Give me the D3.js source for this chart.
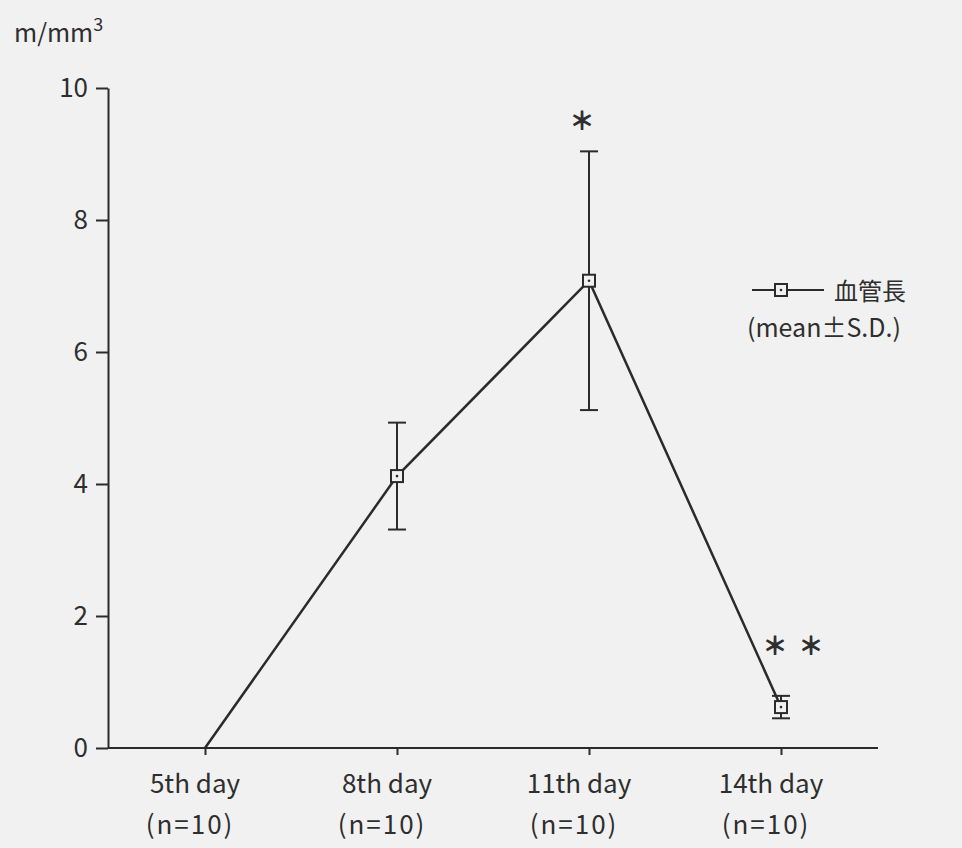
<!DOCTYPE html>
<html><head><meta charset="utf-8">
<script src="https://cdn.jsdelivr.net/npm/d3@7"></script>
<style>
html,body{margin:0;padding:0;background:#f1f1f1;}
svg{display:block;}
text{font-family:"Noto Sans CJK JP","Noto Sans",sans-serif;fill:#2e2e2e;}
</style></head>
<body>
<svg id="chart" width="962" height="848"></svg>
<script>
const categories = ["5th day","8th day","11th day","14th day"];
const nLabels = ["(n=10)","(n=10)","(n=10)","(n=10)"];
const means = [0, 4.12, 7.08, 0.62];
const sds = [null, 0.81, 1.96, 0.17];
const stars = [[], [], ["＊"], ["＊","＊"]];
const yTicks = [0,2,4,6,8,10];
const seriesName = "血管長";

const svg = d3.select("#chart");
const ink = "#2b2b2b";
const FS = 26;
const x = d3.scalePoint().domain(categories).range([205, 781]);
const y = d3.scaleLinear().domain([0,10]).range([748, 88]);

// y axis
const yAxis = svg.append("g").attr("transform","translate(108,0)")
  .call(d3.axisLeft(y).tickValues(yTicks).tickSize(12).tickPadding(8).tickSizeOuter(0));
yAxis.select(".domain").attr("stroke",ink).attr("stroke-width",2);
yAxis.selectAll(".tick line").attr("stroke",ink).attr("stroke-width",2);
yAxis.selectAll(".tick text").attr("font-size",FS).attr("fill","#2e2e2e")
  .style("font-family","'Noto Sans CJK JP',sans-serif");

// x axis
svg.append("line").attr("x1",108).attr("x2",878).attr("y1",748).attr("y2",748)
  .attr("stroke",ink).attr("stroke-width",2);
const xAxis = svg.append("g").attr("transform","translate(0,748)")
  .call(d3.axisBottom(x).tickSize(7).tickSizeOuter(0).tickFormat(""));
xAxis.select(".domain").remove();
xAxis.selectAll(".tick line").attr("stroke",ink).attr("stroke-width",2);
categories.forEach((c,i)=>{
  svg.append("text").attr("x",x(c)-10).attr("y",793).attr("text-anchor","middle")
    .attr("font-size",FS).text(c);
  svg.append("text").attr("x",x(c)-15).attr("y",834).attr("text-anchor","middle")
    .attr("font-size",FS).attr("letter-spacing",2).text(nLabels[i]);
});

// unit label
const u = svg.append("text").attr("x",14).attr("y",42).attr("font-size",FS-1);
u.append("tspan").text("m/mm");
u.append("tspan").attr("font-size",18).attr("dy",-11).text("3");

// error bars
categories.forEach((c,i)=>{
  if (sds[i]==null) return;
  const cx = x(c), top = y(means[i]+sds[i]), bot = y(means[i]-sds[i]);
  const g = svg.append("g").attr("stroke",ink).attr("stroke-width",2);
  g.append("line").attr("x1",cx).attr("x2",cx).attr("y1",top).attr("y2",bot);
  g.append("line").attr("x1",cx-9).attr("x2",cx+9).attr("y1",top).attr("y2",top);
  g.append("line").attr("x1",cx-9).attr("x2",cx+9).attr("y1",bot).attr("y2",bot);
});

// line
const line = d3.line().x((d,i)=>x(categories[i])).y(d=>y(d));
svg.append("path").datum(means).attr("d",line).attr("fill","none")
  .attr("stroke",ink).attr("stroke-width",2.5);

function marker(g, cx, cy){
  g.append("rect").attr("x",cx-6).attr("y",cy-6).attr("width",12).attr("height",12)
    .attr("fill","#f1f1f1").attr("stroke",ink).attr("stroke-width",2);
  g.append("circle").attr("cx",cx).attr("cy",cy).attr("r",1.3).attr("fill",ink);
}
categories.forEach((c,i)=>{ if(i>0) marker(svg, x(c), y(means[i])); });

// stars
categories.forEach((c,i)=>{
  const n = stars[i].length;
  if(!n) return;
  const base = y(means[i]+sds[i]) - (n===1 ? 22 : 42);
  stars[i].forEach((s,k)=>{
    const sx = n===1 ? x(c)-7 : x(c) - 6 + k*36;
    svg.append("text").attr("x",sx).attr("y",base).attr("text-anchor","middle")
      .attr("font-size",24)
      .attr("stroke","#2e2e2e").attr("stroke-width",1.2).text(s);
  });
});

// legend
svg.append("line").attr("x1",752).attr("x2",824).attr("y1",290).attr("y2",290)
  .attr("stroke",ink).attr("stroke-width",2);
marker(svg, 781, 290);
svg.append("text").attr("x",834).attr("y",300).attr("font-size",FS-2).text(seriesName);
svg.append("text").attr("x",747).attr("y",337).attr("font-size",FS-1).text("(mean±S.D.)");
</script>
</body></html>
